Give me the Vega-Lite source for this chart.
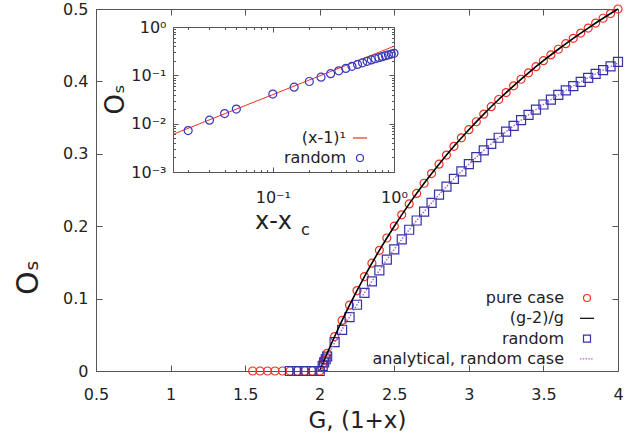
{
  "$schema": "https://vega.github.io/schema/vega-lite/v6.json",
  "width": 522,
  "height": 362,
  "autosize": {"type": "none"},
  "padding": {"left": 96, "top": 9, "right": 15, "bottom": 70},
  "background": "white",
  "config": {
    "font": "DejaVu Sans",
    "view": {"stroke": null},
    "axis": {
      "grid": false,
      "domainColor": "#555555",
      "tickColor": "#555555",
      "labelColor": "#222222",
      "titleColor": "#222222",
      "labelFont": "DejaVu Sans",
      "titleFont": "DejaVu Sans",
      "labelFontSize": 16,
      "titleFontWeight": "normal",
      "domainWidth": 1,
      "tickWidth": 1
    },
    "legend": {
      "labelFont": "DejaVu Sans",
      "labelColor": "#222222",
      "labelFontSize": 16,
      "labelLimit": 400,
      "padding": 0,
      "offset": 0
    },
    "point": {"opacity": 1}
  },
  "datasets": {
    "main": [
      {"G": 1.55, "Os": 0, "series": "pure case"},
      {"G": 1.6, "Os": 0, "series": "pure case"},
      {"G": 1.65, "Os": 0, "series": "pure case"},
      {"G": 1.7, "Os": 0, "series": "pure case"},
      {"G": 1.75, "Os": 0, "series": "pure case"},
      {"G": 1.8, "Os": 0, "series": "pure case"},
      {"G": 1.85, "Os": 0, "series": "pure case"},
      {"G": 1.9, "Os": 0, "series": "pure case"},
      {"G": 1.95, "Os": 0, "series": "pure case"},
      {"G": 2.0, "Os": 0, "series": "pure case"},
      {"G": 2.02, "Os": 0.0099, "series": "pure case"},
      {"G": 2.03, "Os": 0.0148, "series": "pure case"},
      {"G": 2.04, "Os": 0.0196, "series": "pure case"},
      {"G": 2.05, "Os": 0.0244, "series": "pure case"},
      {"G": 2.1, "Os": 0.0476, "series": "pure case"},
      {"G": 2.15, "Os": 0.0698, "series": "pure case"},
      {"G": 2.2, "Os": 0.0909, "series": "pure case"},
      {"G": 2.25, "Os": 0.1111, "series": "pure case"},
      {"G": 2.3, "Os": 0.1304, "series": "pure case"},
      {"G": 2.35, "Os": 0.1489, "series": "pure case"},
      {"G": 2.4, "Os": 0.1667, "series": "pure case"},
      {"G": 2.45, "Os": 0.1837, "series": "pure case"},
      {"G": 2.5, "Os": 0.2, "series": "pure case"},
      {"G": 2.55, "Os": 0.2157, "series": "pure case"},
      {"G": 2.6, "Os": 0.2308, "series": "pure case"},
      {"G": 2.65, "Os": 0.2453, "series": "pure case"},
      {"G": 2.7, "Os": 0.2593, "series": "pure case"},
      {"G": 2.75, "Os": 0.2727, "series": "pure case"},
      {"G": 2.8, "Os": 0.2857, "series": "pure case"},
      {"G": 2.85, "Os": 0.2982, "series": "pure case"},
      {"G": 2.9, "Os": 0.3103, "series": "pure case"},
      {"G": 2.95, "Os": 0.322, "series": "pure case"},
      {"G": 3.0, "Os": 0.3333, "series": "pure case"},
      {"G": 3.05, "Os": 0.3443, "series": "pure case"},
      {"G": 3.1, "Os": 0.3548, "series": "pure case"},
      {"G": 3.15, "Os": 0.3651, "series": "pure case"},
      {"G": 3.2, "Os": 0.375, "series": "pure case"},
      {"G": 3.25, "Os": 0.3846, "series": "pure case"},
      {"G": 3.3, "Os": 0.3939, "series": "pure case"},
      {"G": 3.35, "Os": 0.403, "series": "pure case"},
      {"G": 3.4, "Os": 0.4118, "series": "pure case"},
      {"G": 3.45, "Os": 0.4203, "series": "pure case"},
      {"G": 3.5, "Os": 0.4286, "series": "pure case"},
      {"G": 3.55, "Os": 0.4366, "series": "pure case"},
      {"G": 3.6, "Os": 0.4444, "series": "pure case"},
      {"G": 3.65, "Os": 0.4521, "series": "pure case"},
      {"G": 3.7, "Os": 0.4595, "series": "pure case"},
      {"G": 3.75, "Os": 0.4667, "series": "pure case"},
      {"G": 3.8, "Os": 0.4737, "series": "pure case"},
      {"G": 3.85, "Os": 0.4805, "series": "pure case"},
      {"G": 3.9, "Os": 0.4872, "series": "pure case"},
      {"G": 3.95, "Os": 0.4937, "series": "pure case"},
      {"G": 4.0, "Os": 0.5, "series": "pure case"},
      {"G": 2.0, "Os": 0, "series": "(g-2)/g"},
      {"G": 2.05, "Os": 0.0244, "series": "(g-2)/g"},
      {"G": 2.1, "Os": 0.0476, "series": "(g-2)/g"},
      {"G": 2.2, "Os": 0.0909, "series": "(g-2)/g"},
      {"G": 2.3, "Os": 0.1304, "series": "(g-2)/g"},
      {"G": 2.4, "Os": 0.1667, "series": "(g-2)/g"},
      {"G": 2.5, "Os": 0.2, "series": "(g-2)/g"},
      {"G": 2.6, "Os": 0.2308, "series": "(g-2)/g"},
      {"G": 2.7, "Os": 0.2593, "series": "(g-2)/g"},
      {"G": 2.8, "Os": 0.2857, "series": "(g-2)/g"},
      {"G": 2.9, "Os": 0.3103, "series": "(g-2)/g"},
      {"G": 3.0, "Os": 0.3333, "series": "(g-2)/g"},
      {"G": 3.1, "Os": 0.3548, "series": "(g-2)/g"},
      {"G": 3.2, "Os": 0.375, "series": "(g-2)/g"},
      {"G": 3.3, "Os": 0.3939, "series": "(g-2)/g"},
      {"G": 3.4, "Os": 0.4118, "series": "(g-2)/g"},
      {"G": 3.5, "Os": 0.4286, "series": "(g-2)/g"},
      {"G": 3.6, "Os": 0.4444, "series": "(g-2)/g"},
      {"G": 3.7, "Os": 0.4595, "series": "(g-2)/g"},
      {"G": 3.8, "Os": 0.4737, "series": "(g-2)/g"},
      {"G": 3.9, "Os": 0.4872, "series": "(g-2)/g"},
      {"G": 4.0, "Os": 0.5, "series": "(g-2)/g"},
      {"G": 1.8, "Os": 0, "series": "random"},
      {"G": 1.85, "Os": 0, "series": "random"},
      {"G": 1.9, "Os": 0, "series": "random"},
      {"G": 1.95, "Os": 0, "series": "random"},
      {"G": 2.0, "Os": 0, "series": "random"},
      {"G": 2.02, "Os": 0.0072, "series": "random"},
      {"G": 2.03, "Os": 0.0118, "series": "random"},
      {"G": 2.04, "Os": 0.0162, "series": "random"},
      {"G": 2.05, "Os": 0.02, "series": "random"},
      {"G": 2.1, "Os": 0.04, "series": "random"},
      {"G": 2.15, "Os": 0.0569, "series": "random"},
      {"G": 2.2, "Os": 0.0745, "series": "random"},
      {"G": 2.25, "Os": 0.0915, "series": "random"},
      {"G": 2.3, "Os": 0.108, "series": "random"},
      {"G": 2.35, "Os": 0.1238, "series": "random"},
      {"G": 2.4, "Os": 0.1391, "series": "random"},
      {"G": 2.45, "Os": 0.1538, "series": "random"},
      {"G": 2.5, "Os": 0.1681, "series": "random"},
      {"G": 2.55, "Os": 0.1818, "series": "random"},
      {"G": 2.6, "Os": 0.1951, "series": "random"},
      {"G": 2.65, "Os": 0.2079, "series": "random"},
      {"G": 2.7, "Os": 0.2202, "series": "random"},
      {"G": 2.75, "Os": 0.2321, "series": "random"},
      {"G": 2.8, "Os": 0.2436, "series": "random"},
      {"G": 2.85, "Os": 0.2547, "series": "random"},
      {"G": 2.9, "Os": 0.2654, "series": "random"},
      {"G": 2.95, "Os": 0.2757, "series": "random"},
      {"G": 3.0, "Os": 0.2857, "series": "random"},
      {"G": 3.05, "Os": 0.2953, "series": "random"},
      {"G": 3.1, "Os": 0.3046, "series": "random"},
      {"G": 3.15, "Os": 0.3136, "series": "random"},
      {"G": 3.2, "Os": 0.3222, "series": "random"},
      {"G": 3.25, "Os": 0.3306, "series": "random"},
      {"G": 3.3, "Os": 0.3386, "series": "random"},
      {"G": 3.35, "Os": 0.3464, "series": "random"},
      {"G": 3.4, "Os": 0.3539, "series": "random"},
      {"G": 3.45, "Os": 0.3611, "series": "random"},
      {"G": 3.5, "Os": 0.3681, "series": "random"},
      {"G": 3.55, "Os": 0.3748, "series": "random"},
      {"G": 3.6, "Os": 0.3813, "series": "random"},
      {"G": 3.65, "Os": 0.3876, "series": "random"},
      {"G": 3.7, "Os": 0.3936, "series": "random"},
      {"G": 3.75, "Os": 0.3994, "series": "random"},
      {"G": 3.8, "Os": 0.405, "series": "random"},
      {"G": 3.85, "Os": 0.4104, "series": "random"},
      {"G": 3.9, "Os": 0.4157, "series": "random"},
      {"G": 3.95, "Os": 0.4207, "series": "random"},
      {"G": 4.0, "Os": 0.427, "series": "random"},
      {"G": 2.0, "Os": 0, "series": "analytical, random case"},
      {"G": 2.05, "Os": 0.0197, "series": "analytical, random case"},
      {"G": 2.1, "Os": 0.039, "series": "analytical, random case"},
      {"G": 2.2, "Os": 0.0745, "series": "analytical, random case"},
      {"G": 2.3, "Os": 0.108, "series": "analytical, random case"},
      {"G": 2.4, "Os": 0.1391, "series": "analytical, random case"},
      {"G": 2.5, "Os": 0.1681, "series": "analytical, random case"},
      {"G": 2.6, "Os": 0.1951, "series": "analytical, random case"},
      {"G": 2.7, "Os": 0.2202, "series": "analytical, random case"},
      {"G": 2.8, "Os": 0.2436, "series": "analytical, random case"},
      {"G": 2.9, "Os": 0.2654, "series": "analytical, random case"},
      {"G": 3.0, "Os": 0.2857, "series": "analytical, random case"},
      {"G": 3.1, "Os": 0.3046, "series": "analytical, random case"},
      {"G": 3.2, "Os": 0.3222, "series": "analytical, random case"},
      {"G": 3.3, "Os": 0.3386, "series": "analytical, random case"},
      {"G": 3.4, "Os": 0.3539, "series": "analytical, random case"},
      {"G": 3.5, "Os": 0.3681, "series": "analytical, random case"},
      {"G": 3.6, "Os": 0.3813, "series": "analytical, random case"},
      {"G": 3.7, "Os": 0.3936, "series": "analytical, random case"},
      {"G": 3.8, "Os": 0.405, "series": "analytical, random case"},
      {"G": 3.9, "Os": 0.4157, "series": "analytical, random case"},
      {"G": 4.0, "Os": 0.4255, "series": "analytical, random case"}
    ],
    "inset": [
      {"dx": 0.015, "Os": 0.006, "iseries": "(x-1)¹"},
      {"dx": 1.0, "Os": 0.4, "iseries": "(x-1)¹"},
      {"dx": 0.02, "Os": 0.0072, "iseries": "random"},
      {"dx": 0.03, "Os": 0.0118, "iseries": "random"},
      {"dx": 0.04, "Os": 0.0162, "iseries": "random"},
      {"dx": 0.05, "Os": 0.02, "iseries": "random"},
      {"dx": 0.1, "Os": 0.041, "iseries": "random"},
      {"dx": 0.15, "Os": 0.0569, "iseries": "random"},
      {"dx": 0.2, "Os": 0.0745, "iseries": "random"},
      {"dx": 0.25, "Os": 0.0915, "iseries": "random"},
      {"dx": 0.3, "Os": 0.108, "iseries": "random"},
      {"dx": 0.35, "Os": 0.1238, "iseries": "random"},
      {"dx": 0.4, "Os": 0.1391, "iseries": "random"},
      {"dx": 0.45, "Os": 0.1538, "iseries": "random"},
      {"dx": 0.5, "Os": 0.1681, "iseries": "random"},
      {"dx": 0.55, "Os": 0.1818, "iseries": "random"},
      {"dx": 0.6, "Os": 0.1951, "iseries": "random"},
      {"dx": 0.65, "Os": 0.2079, "iseries": "random"},
      {"dx": 0.7, "Os": 0.2202, "iseries": "random"},
      {"dx": 0.75, "Os": 0.2321, "iseries": "random"},
      {"dx": 0.8, "Os": 0.2436, "iseries": "random"},
      {"dx": 0.85, "Os": 0.2547, "iseries": "random"},
      {"dx": 0.9, "Os": 0.2654, "iseries": "random"},
      {"dx": 0.95, "Os": 0.2757, "iseries": "random"},
      {"dx": 1.0, "Os": 0.2857, "iseries": "random"}
    ]
  },
  "layer": [
    {
      "data": {"name": "main"},
      "encoding": {
        "x": {"field": "G", "type": "quantitative",
          "scale": {"domain": [0.5, 4], "nice": false, "zero": false},
          "axis": {"orient": "bottom", "values": [0.5, 1, 1.5, 2, 2.5, 3, 3.5, 4], "labelExpr": "'' + datum.value",
            "tickSize": -6, "labelPadding": 21, "labelFontSize": 16, "labelFlush": false,
            "title": "G, (1+x)", "titleFontSize": 23, "titlePadding": 7}},
        "y": {"field": "Os", "type": "quantitative",
          "scale": {"domain": [0, 0.5], "nice": false},
          "axis": {"orient": "left", "values": [0, 0.1, 0.2, 0.3, 0.4, 0.5], "labelExpr": "'' + datum.value",
            "tickSize": -6, "labelPadding": 14, "labelFontSize": 16, "labelFlush": false,
            "title": "Oₛ", "titleFontSize": 30, "titleAngle": 270, "titleAlign": "center", "titleBaseline": "middle",
            "titleX": -68, "titleY": 268}},
        "color": {"field": "series", "type": "nominal",
          "scale": {"domain": ["pure case", "(g-2)/g", "random", "analytical, random case"],
            "range": ["#ee3322", "#000000", "#3333a8", "#a35fcf"]},
          "legend": {"orient": "none", "legendX": 483, "legendY": 281, "title": null,
            "labelAlign": "right", "labelOffset": -31, "symbolSize": 49, "symbolStrokeWidth": 1.2,
            "symbolFillColor": "transparent", "rowPadding": 4.3, "labelFontSize": 16, "labelLimit": 400}}
      },
      "layer": [
        {"transform": [{"filter": "datum.series == 'pure case'"}],
          "mark": {"type": "point", "filled": false, "size": 64, "strokeWidth": 1.2, "opacity": 1},
          "encoding": {"shape": {"field": "series", "type": "nominal",
            "scale": {"domain": ["pure case", "(g-2)/g", "random", "analytical, random case"],
              "range": ["circle", "M-2,0H2", "square", "M-2,0H-1.6M-1.2,0H-0.8M-0.4,0H0M0.4,0H0.8M1.2,0H1.6"]},
            "legend": {"orient": "none", "legendX": 483, "legendY": 281, "title": null,
              "labelAlign": "right", "labelOffset": -31, "symbolSize": 49, "symbolStrokeWidth": 1.2,
              "symbolFillColor": "transparent", "rowPadding": 4.3, "labelFontSize": 16, "labelLimit": 400}}}},
        {"transform": [{"filter": "datum.series == 'random'"}],
          "mark": {"type": "point", "filled": false, "size": 81, "strokeWidth": 1.2, "opacity": 1},
          "encoding": {"shape": {"field": "series", "type": "nominal",
            "scale": {"domain": ["pure case", "(g-2)/g", "random", "analytical, random case"],
              "range": ["circle", "M-2,0H2", "square", "M-2,0H-1.6M-1.2,0H-0.8M-0.4,0H0M0.4,0H0.8M1.2,0H1.6"]},
            "legend": {"orient": "none", "legendX": 483, "legendY": 281, "title": null,
              "labelAlign": "right", "labelOffset": -31, "symbolSize": 49, "symbolStrokeWidth": 1.2,
              "symbolFillColor": "transparent", "rowPadding": 4.3, "labelFontSize": 16, "labelLimit": 400}}}},
        {"transform": [{"filter": "datum.series == '(g-2)/g'"}],
          "mark": {"type": "line", "strokeWidth": 1.6, "interpolate": "monotone"}},
        {"transform": [{"filter": "datum.series == 'analytical, random case'"}],
          "mark": {"type": "line", "strokeWidth": 1.4, "strokeDash": [1.5, 1.5], "interpolate": "monotone"}}
      ]
    },
    {
      "data": {"name": "main"},
      "mark": {"type": "point", "opacity": 0},
      "encoding": {
        "x": {"field": "G", "type": "quantitative",
          "scale": {"domain": [0.5, 4], "nice": false, "zero": false},
          "axis": {"orient": "top", "values": [0.5, 1, 1.5, 2, 2.5, 3, 3.5, 4], "labels": false, "tickSize": -6, "title": null}},
        "y": {"field": "Os", "type": "quantitative",
          "scale": {"domain": [0, 0.5], "nice": false},
          "axis": {"orient": "right", "values": [0, 0.1, 0.2, 0.3, 0.4, 0.5], "labels": false, "tickSize": -6, "title": null}}
      }
    },
    {
      "data": {"name": "inset"},
      "encoding": {
        "x": {"field": "dx", "type": "quantitative",
          "scale": {"type": "log", "domain": [0.015, 1], "range": [77, 298], "nice": false},
          "axis": {"orient": "bottom", "offset": -199,
            "values": [0.02, 0.03, 0.04, 0.05, 0.06, 0.07, 0.08, 0.09, 0.1, 0.2, 0.3, 0.4, 0.5, 0.6, 0.7, 0.8, 0.9, 1],
            "labelExpr": "datum.value == 0.1 ? '10⁻¹' : datum.value == 1 ? '10⁰' : ''",
            "tickSize": {"condition": {"test": "datum.value == 0.1 || datum.value == 1", "value": -5}, "value": -2.5},
            "labelPadding": 22, "labelFontSize": 16, "labelFlush": false,
            "title": "x-x", "titleFontSize": 24, "titlePadding": 4, "titleX": 177}},
        "y": {"field": "Os", "type": "quantitative",
          "scale": {"type": "log", "domain": [0.001, 1], "range": [163, 18], "nice": false},
          "axis": {"orient": "left", "offset": -77,
            "values": [0.001, 0.002, 0.003, 0.004, 0.005, 0.006, 0.007, 0.008, 0.009, 0.01, 0.02, 0.03, 0.04, 0.05, 0.06, 0.07, 0.08, 0.09, 0.1, 0.2, 0.3, 0.4, 0.5, 0.6, 0.7, 0.8, 0.9, 1],
            "labelExpr": "datum.value == 0.001 ? '10⁻³' : datum.value == 0.01 ? '10⁻²' : datum.value == 0.1 ? '10⁻¹' : datum.value == 1 ? '10⁰' : ''",
            "tickSize": {"condition": {"test": "datum.value == 0.001 || datum.value == 0.01 || datum.value == 0.1 || datum.value == 1", "value": -5}, "value": -2.5},
            "labelPadding": 12, "labelFontSize": 16, "labelFlush": false,
            "title": "Oₛ", "titleFontSize": 26, "titleAngle": 270, "titleAlign": "center", "titleBaseline": "middle",
            "titleX": -58, "titleY": 90}},
        "color": {"field": "iseries", "type": "nominal",
          "scale": {"domain": ["(x-1)¹", "random"], "range": ["#ee3322", "#3838b8"]},
          "legend": {"orient": "none", "legendX": 256, "legendY": 121, "title": null,
            "labelAlign": "right", "labelOffset": -22, "symbolSize": 49, "symbolStrokeWidth": 1.2,
            "symbolFillColor": "transparent", "rowPadding": 4, "labelFontSize": 16, "labelLimit": 400}}
      },
      "layer": [
        {"transform": [{"filter": "datum.iseries == '(x-1)¹'"}],
          "mark": {"type": "line", "strokeWidth": 1}},
        {"transform": [{"filter": "datum.iseries == 'random'"}],
          "mark": {"type": "point", "filled": false, "size": 64, "strokeWidth": 1.2, "opacity": 1},
          "encoding": {"shape": {"field": "iseries", "type": "nominal",
            "scale": {"domain": ["(x-1)¹", "random"], "range": ["M-2,0H2", "circle"]},
            "legend": {"orient": "none", "legendX": 256, "legendY": 121, "title": null,
              "labelAlign": "right", "labelOffset": -22, "symbolSize": 49, "symbolStrokeWidth": 1.2,
              "symbolFillColor": "transparent", "rowPadding": 4, "labelFontSize": 16, "labelLimit": 400}}}}
      ]
    },
    {
      "data": {"name": "inset"},
      "mark": {"type": "point", "opacity": 0},
      "encoding": {
        "x": {"field": "dx", "type": "quantitative",
          "scale": {"type": "log", "domain": [0.015, 1], "range": [77, 298], "nice": false},
          "axis": {"orient": "top", "offset": -18,
            "values": [0.02, 0.03, 0.04, 0.05, 0.06, 0.07, 0.08, 0.09, 0.1, 0.2, 0.3, 0.4, 0.5, 0.6, 0.7, 0.8, 0.9, 1],
            "labels": false,
            "tickSize": {"condition": {"test": "datum.value == 0.1 || datum.value == 1", "value": -5}, "value": -2.5},
            "title": "c", "titleFontSize": 16, "titleX": 209, "titleY": 202, "titleAlign": "center", "titleBaseline": "middle"}},
        "y": {"field": "Os", "type": "quantitative",
          "scale": {"type": "log", "domain": [0.001, 1], "range": [163, 18], "nice": false},
          "axis": {"orient": "right", "offset": -224,
            "values": [0.001, 0.002, 0.003, 0.004, 0.005, 0.006, 0.007, 0.008, 0.009, 0.01, 0.02, 0.03, 0.04, 0.05, 0.06, 0.07, 0.08, 0.09, 0.1, 0.2, 0.3, 0.4, 0.5, 0.6, 0.7, 0.8, 0.9, 1],
            "labels": false,
            "tickSize": {"condition": {"test": "datum.value == 0.001 || datum.value == 0.01 || datum.value == 0.1 || datum.value == 1", "value": -5}, "value": -2.5},
            "title": null}}
      }
    }
  ],
  "resolve": {"scale": {"x": "independent", "y": "independent", "color": "independent", "shape": "independent"}}
}
